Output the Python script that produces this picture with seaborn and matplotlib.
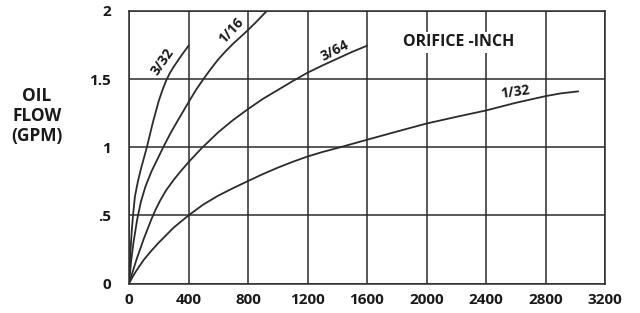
import numpy as np
import pandas as pd
import seaborn as sns
import matplotlib
matplotlib.use("Agg")
import matplotlib.pyplot as plt

# Data: pressure (x) vs oil flow in GPM (y)
orifices = ["3/32", "1/16", "3/64", "1/32"]

x_3_32 = [0, 5, 10, 18, 27, 40, 60, 80, 100, 120, 160, 200, 225, 250, 275,
          300, 350, 400]
y_3_32 = [0, 0.13, 0.24, 0.38, 0.5, 0.64, 0.75, 0.84, 0.92, 1.0, 1.18, 1.34,
          1.42, 1.49, 1.545, 1.59, 1.67, 1.745]

x_1_16 = [0, 15, 30, 55, 80, 110, 150, 190, 230, 280, 330, 400, 450, 500, 550,
          600, 650, 700, 750, 800, 860, 926]
y_1_16 = [0, 0.17, 0.3, 0.47, 0.6, 0.71, 0.82, 0.91, 1.0, 1.105, 1.2, 1.33,
          1.42, 1.5, 1.575, 1.645, 1.705, 1.76, 1.81, 1.86, 1.925, 2.0]

x_3_64 = [0, 50, 100, 150, 180, 210, 250, 300, 350, 400, 490, 600, 700, 800,
          900, 1000, 1100, 1200, 1300, 1400, 1500, 1600]
y_3_64 = [0, 0.175, 0.33, 0.47, 0.545, 0.61, 0.685, 0.76, 0.827, 0.89, 0.995,
          1.11, 1.2, 1.28, 1.355, 1.42, 1.485, 1.547, 1.6, 1.65, 1.70, 1.745]

x_1_32 = [0, 25, 50, 100, 150, 200, 300, 400, 500, 600, 700, 800, 900, 1000,
          1100, 1200, 1300, 1420, 1600, 1800, 2000, 2200, 2400, 2600, 2800,
          2900, 3020]
y_1_32 = [0, 0.05, 0.095, 0.175, 0.24, 0.3, 0.41, 0.5, 0.58, 0.645, 0.70, 0.752,
          0.803, 0.85, 0.893, 0.932, 0.965, 1.0, 1.055, 1.115, 1.174, 1.223,
          1.27, 1.326, 1.375, 1.395, 1.41]

x_ticks = [0, 400, 800, 1200, 1600, 2000, 2400, 2800, 3200]
y_ticks = [0, 0.5, 1, 1.5, 2]
y_tick_labels = ["0", ".5", "1", "1.5", "2"]

series = {"3/32": (x_3_32, y_3_32), "1/16": (x_1_16, y_1_16),
          "3/64": (x_3_64, y_3_64), "1/32": (x_1_32, y_1_32)}
rows = []
for name in orifices:
    xs, ys = series[name]
    for xv, yv in zip(xs, ys):
        rows.append({"orifice": name, "psi": xv, "gpm": yv})
df = pd.DataFrame(rows)

sns.set_style("white")
plt.rcParams["font.family"] = ["Open Sans", "DejaVu Sans"]
plt.rcParams["font.weight"] = "bold"

ink = "#2b2b2b"
fig = plt.figure(figsize=(6.4, 3.13), dpi=100)
ax = fig.add_axes([129 / 640, 1 - 283.5 / 313, 476 / 640, 272.5 / 313])

sns.lineplot(data=df, x="psi", y="gpm", hue="orifice", units="orifice",
             estimator=None, sort=False, palette=[ink] * 4, linewidth=1.3,
             legend=False, ax=ax, zorder=3)
for ln in ax.get_lines():
    ln.set_solid_joinstyle("round")
    ln.set_solid_capstyle("round")

ax.set_xlim(0, 3200)
ax.set_ylim(0, 2)
ax.set_xticks(x_ticks)
ax.set_xticklabels([str(t) for t in x_ticks])
ax.set_yticks(y_ticks)
ax.set_yticklabels(y_tick_labels)
ax.grid(True, color=ink, linewidth=1.1)
ax.set_axisbelow(True)
for s in ax.spines.values():
    s.set_color(ink)
    s.set_linewidth(1.1)
ax.tick_params(axis="both", length=0, labelsize=11, colors="#1a1a1a")
ax.tick_params(axis="x", pad=7)
ax.tick_params(axis="y", pad=13)
for lab in ax.get_xticklabels() + ax.get_yticklabels():
    lab.set_fontweight("bold")
ax.set_xlabel("")
ax.set_ylabel("")

fig.text(37 / 640, 1 - 116 / 313, "OIL\nFLOW\n(GPM)", ha="center", va="center",
         fontsize=12.5, fontweight="bold", color="#1a1a1a", linespacing=1.15)

lbl = dict(fontsize=10, fontweight="bold", color="#1a1a1a", ha="center",
           va="center", rotation_mode="anchor", zorder=4)
ax.text(225, 1.63, "3/32", rotation=55, **lbl)
ax.text(690, 1.86, "1/16", rotation=47, **lbl)
ax.text(1385, 1.71, "3/64", rotation=27, **lbl)
ax.text(2595, 1.405, "1/32", rotation=8, **lbl)

ax.text(2215, 1.77, "ORIFICE -INCH", fontsize=11.5, fontweight="bold",
        color="#1a1a1a", ha="center", va="center", zorder=4,
        bbox=dict(facecolor="white", edgecolor="none", pad=2))

fig.savefig("out.png", dpi=100, facecolor="white")
